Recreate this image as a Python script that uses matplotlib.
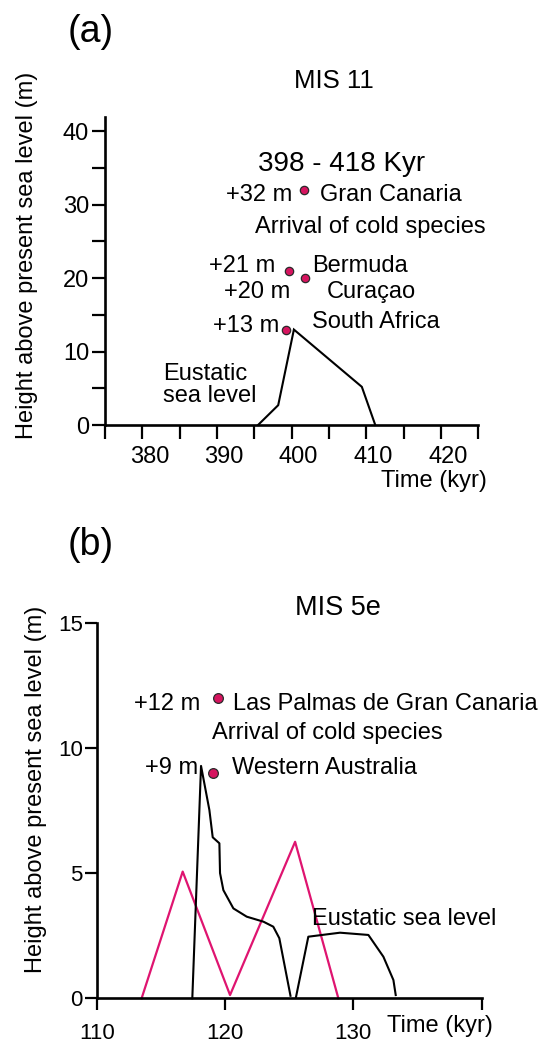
import matplotlib
matplotlib.use("Agg")
import matplotlib.pyplot as plt
from matplotlib.transforms import ScaledTranslation

plt.rcParams['font.family'] = ['Liberation Sans', 'DejaVu Sans']

# ---------------- data ----------------
# MIS 11 eustatic sea-level curve (time in kyr, height in m)
mis11_time = [395.5, 398.2, 400.3, 409.4, 411.2]
mis11_level = [0.0, 2.7, 13.0, 5.2, 0.0]

# MIS 11 highstand sites
mis11_sites = ["Gran Canaria", "Bermuda", "Curaçao", "South Africa"]
mis11_site_time = [401.6, 399.6, 401.8, 399.2]
mis11_site_height = [32, 21, 20, 13]

# MIS 5e eustatic sea-level curve (NaN splits the two branches of the dip)
mis5e_eustatic_time = [117.45, 118.13, 118.78, 119.04, 119.56, 119.61, 119.87,
                       120.65, 121.69, 122.99, 123.76, 124.23, 125.1,
                       float('nan'),
                       125.53, 126.49, 128.96, 131.17, 132.34, 133.12, 133.3]
mis5e_eustatic_level = [0.0, 9.28, 7.52, 6.43, 6.19, 5.0, 4.32,
                        3.59, 3.26, 3.06, 2.86, 2.4, 0.1,
                        float('nan'),
                        0.05, 2.46, 2.62, 2.53, 1.66, 0.73, 0.13]

# MIS 5e magenta curve
mis5e_pink_time = [113.5, 116.7, 120.39, 125.46, 128.83]
mis5e_pink_level = [0.0, 5.06, 0.13, 6.25, 0.0]

# MIS 5e highstand sites
mis5e_sites = ["Las Palmas de Gran Canaria", "Western Australia"]
mis5e_site_time = [119.48, 119.09]
mis5e_site_height = [12, 9]

# tick labels
a_xticks = [380, 390, 400, 410, 420]
a_yticks = [0, 10, 20, 30, 40]
b_xticks = [110, 120, 130, 140]
b_xticklabels = ["110", "120", "130", ""]
b_yticks = [0, 5, 10, 15]

# ---------------- layout ----------------
W, H, DPI = 541, 1042, 100
fig = plt.figure(figsize=(W / DPI, H / DPI), dpi=DPI)
fig.patch.set_facecolor('white')


def fx(px):
    return px / W


def fy(py):
    return 1 - py / H


def axes_px(left, top, right, bottom):
    return fig.add_axes([fx(left), fy(bottom), (right - left) / W, (bottom - top) / H])


DOT_FILL = '#d6145f'
DOT_EDGE = '#2a2a2a'
PINK = '#df1470'
FS = 17

# label layout: (value-text right edge x, name left x, value baseline y, name baseline y)
a_label_layout = [(400.05, 403.8, 30.45, 30.45),
                  (397.8, 402.7, 20.9, 20.9),
                  (399.8, 404.7, 17.28, 17.28),
                  (398.4, 402.7, 12.72, 13.23)]
b_label_layout = [(118.05, 120.65, 11.51, 11.51),
                  (117.92, 120.52, 8.95, 8.95)]


def style_axes(ax):
    for s in ('top', 'right'):
        ax.spines[s].set_visible(False)
    for s in ('left', 'bottom'):
        ax.spines[s].set_linewidth(1.9)
    ax.set_facecolor('none')


# ---------------- panel (a): MIS 11 ----------------
ax1 = axes_px(105, 116.7, 478.3, 425)
style_axes(ax1)
ax1.set_xlim(375, 425)
ax1.set_ylim(0, 42)
ax1.set_xticks(a_xticks)
ax1.set_xticks([375, 385, 395, 405, 415, 425], minor=True)
ax1.set_yticks(a_yticks)
ax1.set_yticks([5, 15, 25, 35], minor=True)
ax1.tick_params(axis='x', which='both', direction='out', length=10, width=1.6,
                labelsize=FS, pad=5)
ax1.tick_params(axis='y', which='both', direction='out', length=9.4, width=1.6,
                labelsize=FS, pad=2)
shift = ScaledTranslation(7 / DPI, 0, fig.dpi_scale_trans)
for lab in ax1.get_xticklabels():
    lab.set_transform(lab.get_transform() + shift)

ax1.plot(mis11_time, mis11_level, color='black', lw=1.5, clip_on=False,
         solid_joinstyle='miter')
ax1.plot(mis11_site_time, mis11_site_height, 'o', ls='none', ms=6,
         mfc=DOT_FILL, mec=DOT_EDGE, mew=0.9, clip_on=False, zorder=5)

ax1.text(406.7, 34.54, "398 - 418 Kyr", ha='center', va='baseline', fontsize=20)
for name, h, (vx, nx, vy, ny) in zip(mis11_sites, mis11_site_height, a_label_layout):
    ax1.text(vx, vy, f"+{h} m", ha='right', va='baseline', fontsize=FS)
    ax1.text(nx, ny, name, ha='left', va='baseline', fontsize=FS)
ax1.text(395.1, 26.14, "Arrival of cold species", ha='left', va='baseline', fontsize=FS)
ax1.text(382.8, 6.14, "Eustatic", ha='left', va='baseline', fontsize=FS)
ax1.text(382.8, 3.18, "sea level", ha='left', va='baseline', fontsize=FS)

fig.text(fx(68), fy(42), "(a)", fontsize=27, ha='left', va='baseline')
fig.text(fx(334), fy(88), "MIS 11", fontsize=18.5, ha='center', va='baseline')
fig.text(fx(27.5), fy(255), "Height above present sea level (m)", rotation=90,
         fontsize=FS, ha='center', va='center')
fig.text(fx(487), fy(487), "Time (kyr)", fontsize=FS, ha='right', va='baseline')

# ---------------- panel (b): MIS 5e ----------------
ax2 = axes_px(96.7, 622.7, 481.7, 998.3)
style_axes(ax2)
ax2.set_xlim(110, 140)
ax2.set_ylim(0, 15)
ax2.set_xticks(b_xticks)
ax2.set_xticklabels(b_xticklabels)
ax2.set_yticks(b_yticks)
ax2.tick_params(axis='x', direction='out', length=8.6, width=1.6, labelsize=16, pad=9)
ax2.tick_params(axis='y', direction='out', length=8.6, width=1.6, labelsize=16, pad=1.5)

ax2.plot(mis5e_pink_time, mis5e_pink_level, color=PINK, lw=1.6, clip_on=False)
ax2.plot(mis5e_eustatic_time, mis5e_eustatic_level, color='black', lw=1.5,
         clip_on=False)
ax2.plot(mis5e_site_time, mis5e_site_height, 'o', ls='none', ms=7,
         mfc=DOT_FILL, mec=DOT_EDGE, mew=0.9, clip_on=False, zorder=5)

for name, h, (vx, nx, vy, ny) in zip(mis5e_sites, mis5e_site_height, b_label_layout):
    ax2.text(vx, vy, f"+{h} m", ha='right', va='baseline', fontsize=FS)
    ax2.text(nx, ny, name, ha='left', va='baseline', fontsize=FS)
ax2.text(118.96, 10.36, "Arrival of cold species", ha='left', va='baseline', fontsize=FS)
ax2.text(126.76, 2.93, "Eustatic sea level", ha='left', va='baseline', fontsize=FS)

fig.text(fx(68), fy(555), "(b)", fontsize=27, ha='left', va='baseline')
fig.text(fx(338), fy(615), "MIS 5e", fontsize=19.5, ha='center', va='baseline')
fig.text(fx(36), fy(789), "Height above present sea level (m)", rotation=90,
         fontsize=FS, ha='center', va='center')
fig.text(fx(493), fy(1032), "Time (kyr)", fontsize=FS, ha='right', va='baseline')

fig.savefig("out.png", dpi=DPI)
